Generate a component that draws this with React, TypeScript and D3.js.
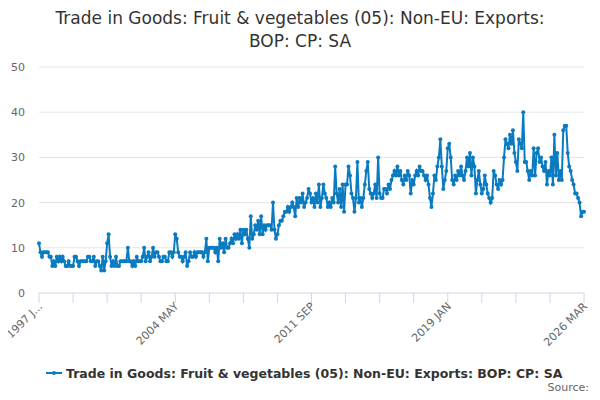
import * as d3 from 'd3';

const title = ['Trade in Goods: Fruit & vegetables (05): Non-EU: Exports:', 'BOP: CP: SA'];
const seriesName = 'Trade in Goods: Fruit & vegetables (05): Non-EU: Exports: BOP: CP: SA';
const tickLabels = ['1997 J...', '2004 MAY', '2011 SEP', '2019 JAN', '2026 MAR'];
const yTicks = [0, 10, 20, 30, 40, 50];

// monthly values, one row per year, from 1997 JAN
const values: number[] = [
  11, 9, 8, 9, 9, 9, 9, 8, 8, 6, 7, 6,
  8, 7, 8, 7, 8, 7, 6, 6, 7, 6, 6, 6,
  8, 8, 7, 6, 7, 7, 7, 7, 7, 8, 8, 7,
  7, 8, 6, 7, 7, 6, 5, 8, 5, 7, 11, 13,
  8, 6, 7, 6, 8, 6, 6, 7, 7, 7, 7, 7,
  10, 7, 7, 6, 7, 6, 8, 7, 7, 7, 8, 10,
  7, 8, 9, 7, 8, 10, 8, 9, 9, 8, 7, 7,
  8, 8, 7, 7, 9, 9, 8, 9, 13, 12, 9, 8,
  8, 7, 8, 9, 6, 7, 9, 8, 8, 9, 8, 9,
  9, 9, 9, 8, 9, 12, 7, 10, 10, 10, 10, 9,
  10, 7, 12, 10, 11, 9, 12, 10, 10, 11, 12, 11,
  13, 12, 13, 12, 14, 11, 14, 13, 14, 12, 10, 17,
  12, 13, 15, 14, 16, 13, 17, 13, 15, 14, 15, 15,
  15, 14, 20, 14, 12, 13, 15, 16, 16, 17, 18, 18,
  19, 18, 19, 20, 19, 17, 21, 19, 21, 20, 22, 19,
  20, 21, 23, 22, 20, 21, 19, 22, 20, 24, 19, 21,
  24, 22, 21, 19, 20, 19, 21, 20, 28, 22, 20, 23,
  19, 24, 18, 24, 24, 28, 26, 22, 21, 18, 21, 29,
  20, 21, 19, 21, 24, 27, 29, 23, 22, 21, 22, 24,
  21, 30, 22, 21, 21, 23, 23, 22, 24, 23, 25, 26,
  27, 26, 28, 26, 27, 25, 24, 26, 25, 27, 26, 22,
  25, 24, 26, 27, 26, 28, 27, 27, 26, 25, 26, 24,
  21, 19, 22, 26, 25, 28, 30, 34, 28, 23, 25, 27,
  32, 33, 30, 25, 24, 26, 25, 27, 26, 28, 26, 25,
  27, 30, 28, 31, 26, 30, 28, 22, 25, 27, 24, 22,
  23, 26, 24, 22, 21, 20, 21, 27, 26, 24, 23, 25,
  24, 25, 30, 34, 33, 32, 35, 33, 36, 31, 29, 27,
  34, 33, 32, 40, 29, 29, 27, 25, 27, 26, 32, 26,
  31, 32, 29, 30, 28, 27, 29, 24, 27, 26, 30, 24,
  35, 26, 31, 25, 27, 25, 36, 37, 37, 31, 28, 27,
  25, 24, 22, 22, 21, 20, 17, 18, 18,
];

const W = 600, H = 400;
const m = { top: 67, right: 16, bottom: 107, left: 39 };

export default function App() {
  const iw = W - m.left - m.right;
  const ih = H - m.top - m.bottom;
  const x = d3.scaleLinear().domain([0, values.length - 1]).range([0, iw]);
  const y = d3.scaleLinear().domain([0, 50]).range([ih, 0]);
  const line = d3.line<number>().x((_, i) => x(i)).y((d) => y(d));
  const step = (values.length - 1) / 16;
  const ticks = d3.range(17).map((i) => i * step);
  const blue = '#0b7bc1';

  return (
    <svg width={W} height={H} style={{ display: 'block', margin: -8, fontFamily: '"DejaVu Sans", sans-serif' }}>
      <rect width={W} height={H} fill="#fff" />
      {title.map((t, i) => (
        <text key={i} x={W / 2} y={24 + i * 23} textAnchor="middle" fontSize={17} fill="#333">{t}</text>
      ))}
      <g transform={`translate(${m.left},${m.top})`}>
        {yTicks.map((t) => (
          <g key={t}>
            {t > 0 && <line x1={0} x2={iw} y1={y(t)} y2={y(t)} stroke="#e6e6e6" />}
            <text x={-14} y={y(t) + 4} textAnchor="end" fontSize={11} fill="#666">{t}</text>
          </g>
        ))}
        <line x1={0} x2={iw} y1={ih} y2={ih} stroke="#ccd6eb" />
        {ticks.map((t, i) => (
          <line key={i} x1={x(t)} x2={x(t)} y1={ih} y2={ih + 10} stroke="#ccd6eb" />
        ))}
        {tickLabels.map((l, i) => (
          <text key={l} transform={`translate(${x(ticks[i * 4]) + 4},${ih + 14}) rotate(-45)`} textAnchor="end" fontSize={11} fill="#666">{l}</text>
        ))}
        <path d={line(values) ?? ''} fill="none" stroke={blue} strokeWidth={2} />
        {values.map((v, i) => (
          <circle key={i} cx={x(i)} cy={y(v)} r={2} fill={blue} />
        ))}
      </g>
      <g transform={`translate(46,373)`}>
        <line x1={0} x2={16} y1={0} y2={0} stroke={blue} strokeWidth={2} />
        <circle cx={8} cy={0} r={2} fill={blue} />
        <text x={20} y={5} fontSize={12.5} fontWeight="bold" fill="#333">{seriesName}</text>
      </g>
      <text x={589} y={391} textAnchor="end" fontSize={11} fill="#666">Source:</text>
    </svg>
  );
}
